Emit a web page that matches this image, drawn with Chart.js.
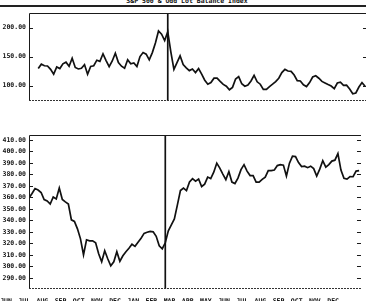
<!DOCTYPE html>
<html>
<head>
<meta charset="utf-8">
<script src="https://cdn.jsdelivr.net/npm/chart.js@4"></script>
<style>
  html, body { margin: 0; padding: 0; background: #fff; overflow: hidden; }
  body { width: 366px; height: 301px; position: relative; }
  .title {
    position: absolute; left: 0; top: -2px; width: 374px;
    text-align: center; white-space: nowrap;
    font: bold 6.5px 'DejaVu Sans Mono', monospace; line-height: 7px; color: #111;
  }
  .rule { position: absolute; left: 0; top: 5px; width: 366px; height: 2px; background: #222; }
  #top { position: absolute; left: 0; top: 0; }
  #bottom { position: absolute; left: 0; top: 125px; }
</style>
</head>
<body>
<div class="title">S&amp;P 500 &amp; Odd Lot Balance Index</div>
<div class="rule"></div>
<canvas id="top" width="370" height="125"></canvas>
<canvas id="bottom" width="370" height="185"></canvas>
<script>
// month labels along the bottom (Jun 1990 .. Dec 1991)
var months = ['JUN', 'JUL', 'AUG', 'SEP', 'OCT', 'NOV', 'DEC', 'JAN', 'FEB', 'MAR',
              'APR', 'MAY', 'JUN', 'JUL', 'AUG', 'SEP', 'OCT', 'NOV', 'DEC'];

// one reading every 1/6 month, month 0 = start of JUN 1990
var step = 1 / 6;
var lastMonth = 18.27;
var gulfWar = 7.5;          // the vertical marker, mid JAN 1991

var oddLotStart = 0.5;
var oddLot = [
  129.4, 136.9, 134.2, 133.8, 128, 119.7, 132.1, 129.4, 137.6, 140.4,
  133.5, 147.3, 131.4, 128.7, 130, 136.2, 119.7, 133.1, 134.2, 143.8,
  141.8, 154.8, 143.1, 132.8, 142.4, 155.9, 139.7, 133.5, 130, 144.5,
  137.6, 139, 132.8, 150, 156.9, 154.1, 144.5, 156.9, 173.4, 194.1,
  188.6, 177.6, 192.7, 158.3, 128, 139.7, 151.4, 136.2, 130.7, 125.9,
  128.7, 122.5, 129.4, 119.7, 109.4, 102.5, 105.3, 112.8, 112.8, 107.3,
  102.2, 99.1, 92.9, 97, 111.5, 115.6, 103.2, 99.1, 101.1, 108,
  117.7, 106.6, 102.5, 93.6, 93.6, 98.4, 102.5, 106.9, 112.8, 122.5,
  128, 125.2, 124.5, 118.3, 108.7, 108, 101.4, 98.4, 105.3, 114.9,
  117, 112.8, 107.3, 104.6, 101.8, 99.3, 94.9, 104.6, 106, 100.4,
  100.9, 94.2, 86, 87.4, 97.7, 105.3, 99.1
];

var spxStart = 0;
var spx = [
  359.5, 363.4, 367.7, 366.5, 364.3, 358.2, 356.9, 354.3, 360.4, 358.7,
  368.2, 358.2, 356.1, 354.3, 340.5, 339.2, 332.7, 324, 310.2, 323.2,
  322.3, 322.3, 320.6, 311, 304.1, 313.6, 306.7, 300.6, 304.1, 312.8,
  304.5, 309.3, 312.8, 315.8, 319.3, 317.5, 321, 324.5, 328.8, 329.7,
  330.5, 330.1, 326.2, 318, 315.4, 320.6, 331, 336.1, 341.3, 353.5,
  366, 368.2, 366, 373.4, 376.4, 374.2, 376, 369.5, 371.6, 377.7,
  376.4, 382, 389.8, 385.5, 380.3, 375.5, 382.5, 373.4, 372.1, 376.8,
  384.2, 388.5, 382.9, 379, 379, 373.4, 373.4, 375.7, 377.7, 383.3,
  383.3, 383.8, 387.7, 388.5, 388.1, 378.6, 389.8, 395.9, 395.5, 390.3,
  386.8, 387.2, 385.9, 387.2, 385.1, 378.6, 384.6, 392, 386.4, 388.5,
  391.6, 392.4, 398.1, 383.8, 376.6, 376, 378.1, 378, 382.9, 383.3
];

var topTicks = [100, 150, 200];
var bottomTicks = [290, 300, 310, 320, 330, 340, 350, 360, 370, 380, 390, 400, 410];

var tickFont = { family: 'DejaVu Sans Mono', size: 6.5, weight: 'bold' };


// ---------------------------- frame + inward ticks ------------------------------

var frame = {
    id: 'frame',
    afterDraw(chart) {
        let ctx = chart.ctx;
        let a = chart.chartArea;
        let y = chart.scales.y;

        ctx.save();
        ctx.strokeStyle = '#1a1a1a';
        ctx.lineWidth = 1;
        ctx.beginPath();
        ctx.moveTo(a.left + 0.5, a.bottom);
        ctx.lineTo(a.left + 0.5, a.top + 0.5);
        ctx.lineTo(a.right, a.top + 0.5);
        y.ticks.forEach(t => {
            let py = Math.round(y.getPixelForValue(t.value)) + 0.5;
            ctx.moveTo(a.left, py);
            ctx.lineTo(a.left + 4, py);
            ctx.moveTo(a.right - 4, py);
            ctx.lineTo(a.right, py);
        });
        ctx.stroke();

        ctx.strokeStyle = '#333';
        ctx.setLineDash([2, 1]);
        ctx.beginPath();
        ctx.moveTo(a.left, a.bottom - 0.5);
        ctx.lineTo(a.right, a.bottom - 0.5);
        ctx.stroke();
        ctx.restore();
    }
};

function toPoints(values, start) {
    return values.map((v, i) => ({ x: start + i * step, y: v }));
}

function panel(idEle, values, start, yMin, yMax, yTicks, showMonths, padding) {
    const data = {
        datasets: [{
            data: toPoints(values, start),
            borderColor: '#111',
            borderWidth: 1.7,
            pointRadius: 0,
            tension: 0
        }, {
            data: [{ x: gulfWar, y: yMin }, { x: gulfWar, y: yMax }],
            borderColor: '#111',
            borderWidth: 1.7,
            pointRadius: 0
        }]
    };

    const config = {
        type: 'line',
        data: data,
        options: {
            responsive: false,
            animation: false,
            layout: { padding: padding },
            plugins: { legend: { display: false }, tooltip: { enabled: false } },
            scales: {
                x: {
                    type: 'linear',
                    min: 0,
                    max: lastMonth,
                    display: showMonths,
                    afterFit: s => { s.height = 21; },
                    afterBuildTicks: s => { s.ticks = months.map((m, i) => ({ value: i })); },
                    grid: { display: false, drawTicks: false },
                    border: { display: false },
                    ticks: {
                        autoSkip: false,
                        maxRotation: 0,
                        labelOffset: -23,
                        padding: 8,
                        color: '#111',
                        font: tickFont,
                        callback: v => months[Math.round(v)]
                    }
                },
                y: {
                    min: yMin,
                    max: yMax,
                    afterFit: s => { s.width = 29; },
                    afterBuildTicks: s => { s.ticks = yTicks.map(v => ({ value: v })); },
                    grid: { display: false, drawTicks: false },
                    border: { display: false },
                    ticks: {
                        padding: 3,
                        color: '#111',
                        font: tickFont,
                        callback: v => v.toFixed(2)
                    }
                }
            }
        },
        plugins: [frame]
    };

    let ctx = document.getElementById(idEle).getContext('2d');
    new Chart(ctx, config);
}

panel('top', oddLot, oddLotStart, 73.6, 225, topTicks, false,
      { top: 13, bottom: 3, left: 0, right: 3 });
panel('bottom', spx, spxStart, 280.4, 414.3, bottomTicks, true,
      { top: 10, bottom: 0, left: 0, right: 3 });
</script>
</body>
</html>
